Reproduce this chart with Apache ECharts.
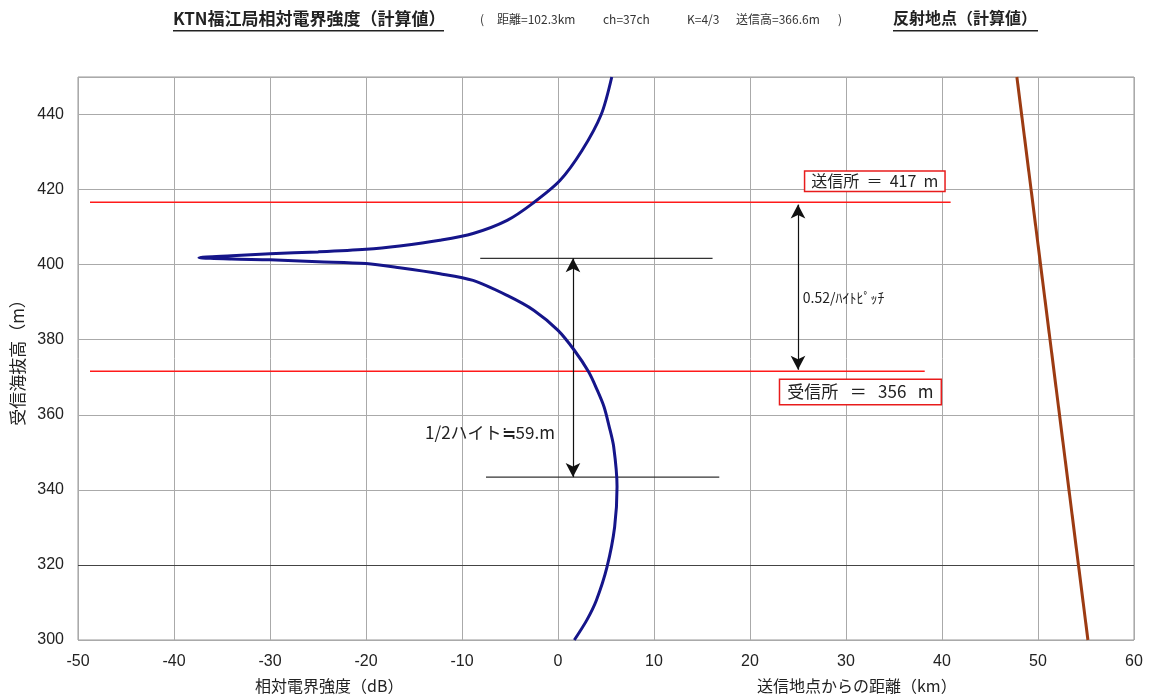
<!DOCTYPE html>
<html>
<head>
<meta charset="utf-8">
<title>KTN福江局相対電界強度</title>
<script src="https://cdn.jsdelivr.net/npm/echarts@6/dist/echarts.min.js"></script>
<style>
  html, body { margin: 0; padding: 0; background: #fff; }
  #chart { width: 1149px; height: 700px; }
</style>
</head>
<body>
<div id="chart"></div>
<script>
// 受信海抜高(m) と 相対電界強度(dB) ―― 上から順に読み取り
var heights = [450, 440, 430.4, 422.4, 416.4, 411.8, 408.3, 406.5, 405.0, 404.1, 403.4, 402.9, 402.4, 401.9,
  401.5, 401.3, 400.8, 400.3, 399.2, 397.6, 395.8, 391.8, 387.8, 382.5, 377.2, 371.4, 366.5, 362.1,
  357.2, 351.5, 340.8, 330.1, 319.4, 310.6, 305.3, 300];
var fieldDb = [5.6, 4.5, 2.5, 0.2, -2.6, -5.3, -8.85, -12.3, -16.5, -20.0, -25.0, -30.0, -34.0, -37.4,
  -34.0, -30.0, -25.0, -20.0, -16.5, -12.3, -8.85, -5.3, -2.5, 0.0, 1.7, 3.2, 4.1, 4.8,
  5.3, 5.8, 6.15, 5.9, 5.1, 4.0, 3.0, 1.7];

// 反射地点(km)
var reflectKm = [47.8, 55.2];
var reflectH = [450, 300];

// 送信所・受信所の高さ線
var txLineX = [-48.75, 40.9];
var txLineH = 416.6;
var rxLineX = [-48.75, 38.2];
var rxLineH = 371.6;

// 1/2ハイトの目安線
var peakLineX = [-8.1, 16.1];
var peakLineH = 401.7;
var nullLineX = [-7.5, 16.8];
var nullLineH = 343.4;
var halfArrowX = 1.56;
var pitchArrowX = 25;
var pitchArrowH = [416, 372];

var xTicks = { min: -50, max: 60, interval: 10 };
var yTicks = { min: 300, max: 450, interval: 20 };

var jp = '"Noto Sans CJK JP", sans-serif';
var num = '"Liberation Sans", Arial, sans-serif';

function pairs(xs, ys) {
  return xs.map(function (x, i) { return [x, ys[i]]; });
}

var chart = echarts.init(document.getElementById('chart'));

var option = {
  backgroundColor: '#fff',
  animation: false,
  grid: {
    left: 78, right: 15, top: 77, bottom: 60,
    show: true, borderColor: '#999', borderWidth: 1
  },
  xAxis: {
    type: 'value',
    min: xTicks.min, max: xTicks.max, interval: xTicks.interval,
    axisLine: { show: false },
    axisTick: { show: false },
    axisLabel: { color: '#222', fontSize: 16, fontFamily: '"Liberation Sans Narrow", ' + num, margin: 14 },
    splitLine: { lineStyle: { color: '#aaa', width: 1 } }
  },
  yAxis: {
    type: 'value',
    min: yTicks.min, max: yTicks.max, interval: yTicks.interval,
    name: '受信海抜高（m）',
    nameLocation: 'middle',
    nameGap: 50,
    nameTextStyle: { color: '#222', fontSize: 17, fontFamily: jp },
    axisLine: { show: false },
    axisTick: { show: false },
    axisLabel: { color: '#222', fontSize: 16, fontFamily: num, margin: 14, showMaxLabel: false },
    splitLine: { lineStyle: { color: '#aaa', width: 1 } }
  },
  graphic: [
    { type: 'text', left: 173, top: 10, style: { text: 'KTN福江局相対電界強度（計算値）', fill: '#222', font: 'bold 17px ' + jp } },
    { type: 'rect', left: 173, top: 30, shape: { width: 271, height: 1.5 }, style: { fill: '#222' } },
    { type: 'text', left: 480, top: 13, style: { text: '(', fill: '#333', font: '12px ' + jp } },
    { type: 'text', left: 497, top: 13, style: { text: '距離=102.3km', fill: '#333', font: '12px ' + jp } },
    { type: 'text', left: 603, top: 13, style: { text: 'ch=37ch', fill: '#333', font: '12px ' + jp } },
    { type: 'text', left: 687, top: 13, style: { text: 'K=4/3', fill: '#333', font: '12px ' + jp } },
    { type: 'text', left: 736, top: 13, style: { text: '送信高=366.6m', fill: '#333', font: '12px ' + jp } },
    { type: 'text', left: 838, top: 13, style: { text: ')', fill: '#333', font: '12px ' + jp } },
    { type: 'text', left: 893, top: 10, style: { text: '反射地点（計算値）', fill: '#222', font: 'bold 16px ' + jp } },
    { type: 'rect', left: 893, top: 30, shape: { width: 145, height: 1.5 }, style: { fill: '#222' } },
    { type: 'text', left: 255, top: 678, style: { text: '相対電界強度（dB）', fill: '#222', font: '16px ' + jp } },
    { type: 'text', left: 757, top: 678, style: { text: '送信地点からの距離（km）', fill: '#222', font: '16px ' + jp } }
  ],
  series: [
    {
      name: '320線',
      type: 'line',
      data: [],
      markLine: {
        silent: true, symbol: 'none', label: { show: false },
        lineStyle: { color: '#444', width: 1, type: 'solid' },
        data: [{ yAxis: 320 }]
      }
    },
    {
      name: '送信所',
      type: 'line',
      data: pairs(txLineX, [txLineH, txLineH]),
      showSymbol: false,
      lineStyle: { color: '#ff1a1a', width: 1.5 },
      markPoint: {
        symbol: 'rect', symbolSize: 0,
        data: [{ coord: [33.0, 422.2], value: 0 }],
        label: {
          show: true, formatter: '送信所  ＝  417  m',
          color: '#222', fontSize: 16, fontFamily: jp,
          backgroundColor: '#fff', borderColor: '#e81c1c', borderWidth: 1.5,
          padding: [2, 6, 1, 6]
        }
      }
    },
    {
      name: '受信所',
      type: 'line',
      data: pairs(rxLineX, [rxLineH, rxLineH]),
      showSymbol: false,
      lineStyle: { color: '#ff1a1a', width: 1.5 },
      markPoint: {
        symbol: 'rect', symbolSize: 0,
        data: [{ coord: [31.5, 366.1], value: 0 }],
        label: {
          show: true, formatter: '受信所   ＝   356   m',
          color: '#222', fontSize: 17, fontFamily: jp,
          backgroundColor: '#fff', borderColor: '#e81c1c', borderWidth: 1.5,
          padding: [4, 7, 3, 7]
        }
      }
    },
    {
      name: '最大',
      type: 'line',
      data: pairs(peakLineX, [peakLineH, peakLineH]),
      showSymbol: false,
      lineStyle: { color: '#333', width: 1.2 },
      markLine: {
        silent: true, symbol: ['arrow', 'arrow'], symbolSize: [11, 14],
        label: { show: false },
        lineStyle: { color: '#111', width: 1.2, type: 'solid' },
        data: [
          [{ coord: [halfArrowX, peakLineH] }, { coord: [halfArrowX, nullLineH] }],
          [{ coord: [pitchArrowX, pitchArrowH[0]] }, { coord: [pitchArrowX, pitchArrowH[1]] }]
        ]
      },
      markPoint: {
        symbol: 'rect', symbolSize: 0,
        data: [
          { coord: [25.5, 391.3], value: 0, label: { formatter: '0.52/ﾊｲﾄﾋﾟｯﾁ', fontSize: 14, position: 'right', distance: 0 } },
          { coord: [-13.85, 355.4], value: 1, label: { formatter: '1/2ハイト≒59.m', fontSize: 17, position: 'right', distance: 0 } }
        ],
        label: { show: true, color: '#222', fontFamily: jp }
      }
    },
    {
      name: '最小',
      type: 'line',
      data: pairs(nullLineX, [nullLineH, nullLineH]),
      showSymbol: false,
      lineStyle: { color: '#333', width: 1.2 }
    },
    {
      name: '相対電界強度',
      type: 'line',
      data: pairs(fieldDb, heights),
      showSymbol: false,
      smooth: 0.3,
      lineStyle: { color: '#15158a', width: 3 },
      z: 5
    },
    {
      name: '反射地点',
      type: 'line',
      data: pairs(reflectKm, reflectH),
      showSymbol: false,
      lineStyle: { color: '#9c3b12', width: 3 },
      z: 5
    }
  ]
};

chart.setOption(option);
</script>
</body>
</html>
